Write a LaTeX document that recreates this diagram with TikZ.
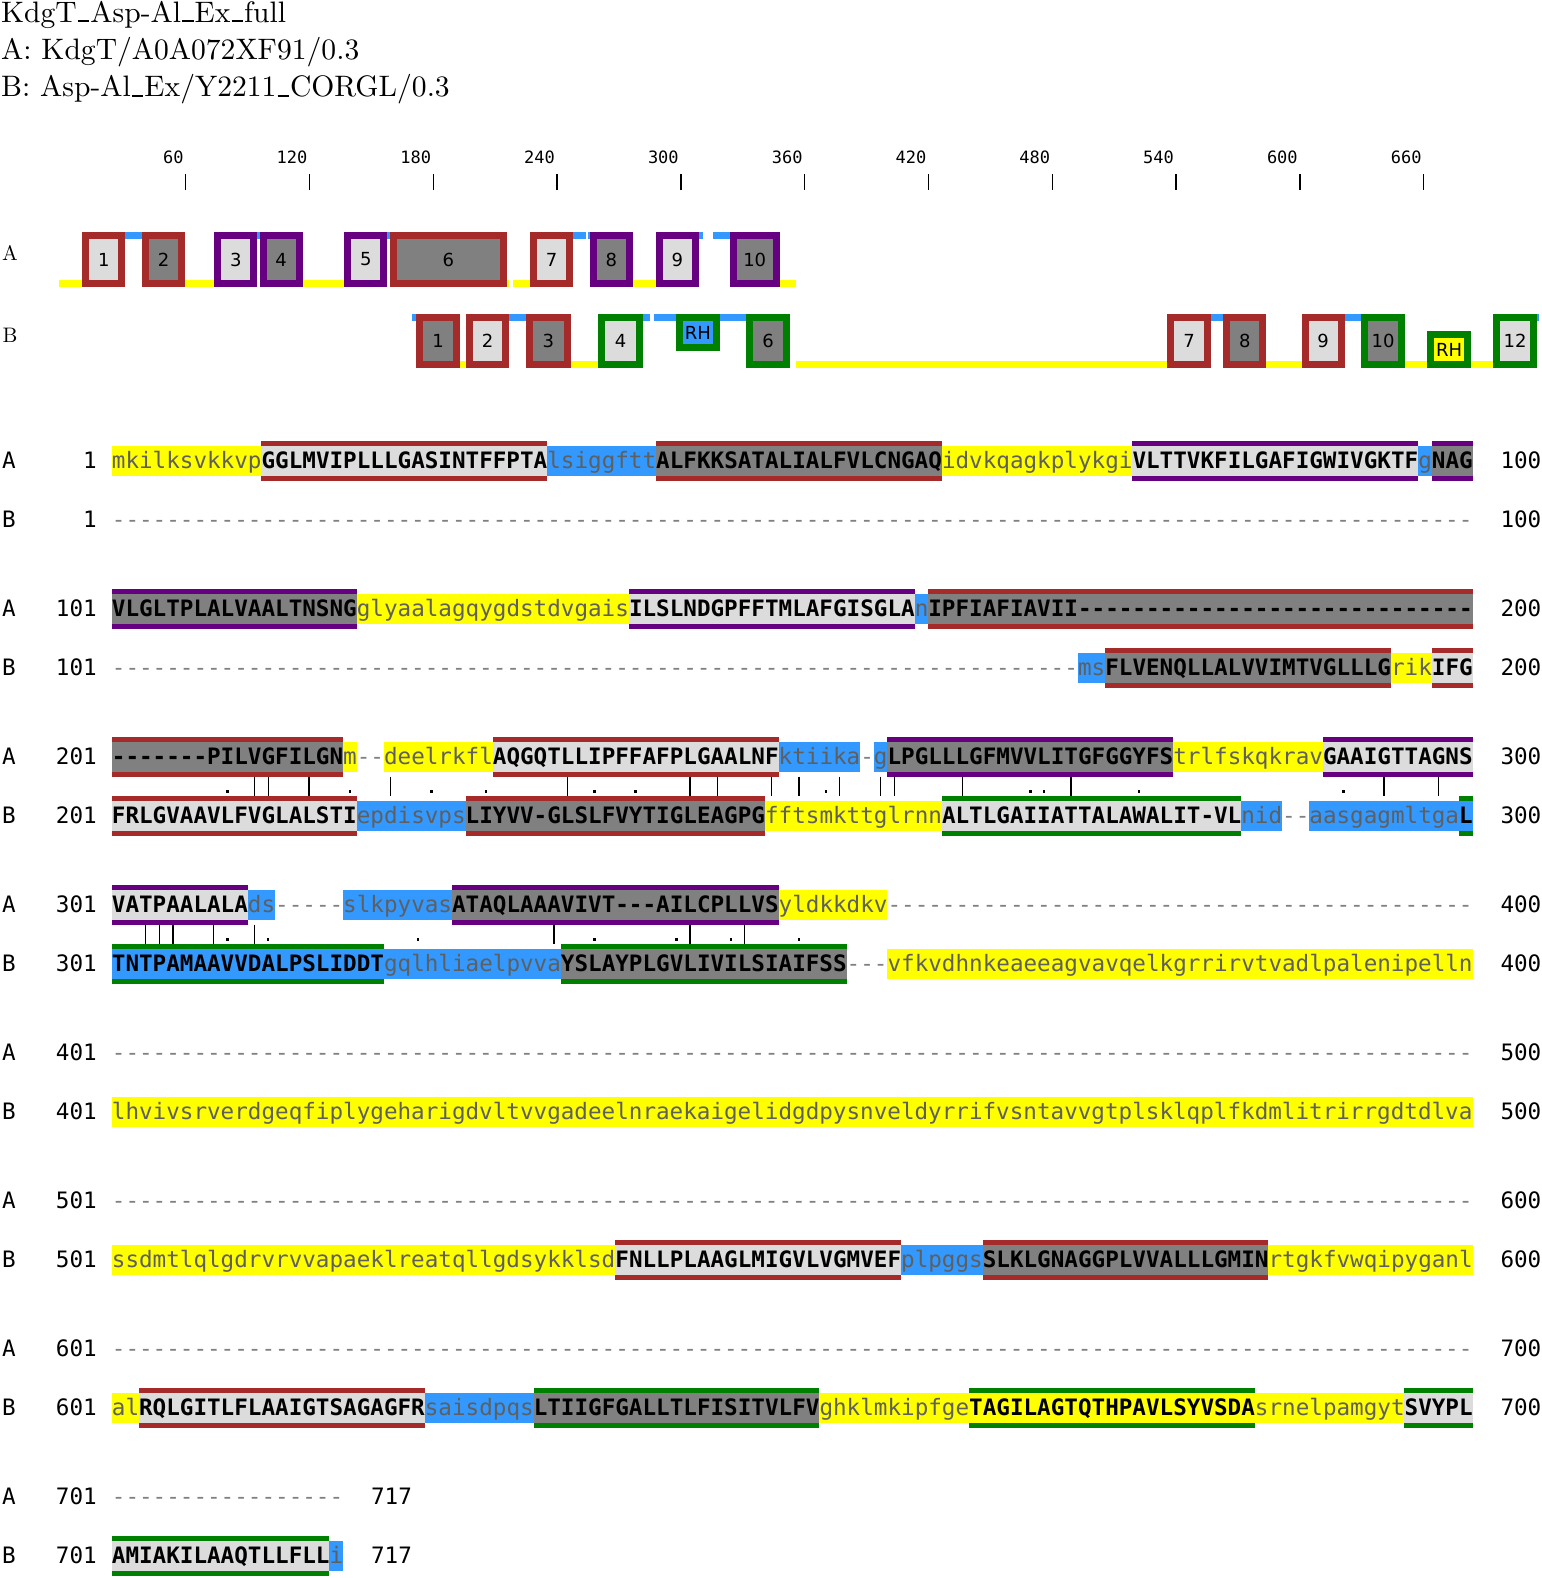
\documentclass[tikz,border=0pt]{standalone}
\usepackage{fontspec}
\newfontfamily\seqfont[Ligatures=TeXOff]{DejaVu Sans Mono}
\newfontfamily\tpfont{DejaVu Sans}
\newfontfamily\titlefont{lmroman10-regular}[Extension=.otf]

\definecolor{tmred}{HTML}{A52A2A}
\definecolor{tmpurple}{HTML}{660080}
\definecolor{tmgreen}{HTML}{008000}
\definecolor{lpyellow}{HTML}{FFFF00}
\definecolor{lpblue}{HTML}{3399FF}
\definecolor{tmlight}{HTML}{DCDCDC}
\definecolor{tmdark}{HTML}{808080}
\definecolor{loopfg}{HTML}{5F5F5F}
\definecolor{gapfg}{HTML}{808080}

\ExplSyntaxOn
\cs_new:Npn \seqdash #1 { \prg_replicate:nn {#1} {-} }
\ExplSyntaxOff
\newcommand\usc{\kern0.04em\rule{0.38em}{0.07em}\kern0.04em}

% alignment grid: first column and column width
\def\sx{111.7}
\def\cw{13.608}
\newcommand\setrow[2]{\expandafter\def\csname ry#1\endcsname{#2}}
\newcommand\getrow[1]{\edef\ry{\csname ry#1\endcsname}}
\setrow{a1}{460.5}\setrow{b1}{519.8}
\setrow{a2}{608.5}\setrow{b2}{667.8}
\setrow{a3}{756.5}\setrow{b3}{815.8}
\setrow{a4}{904.5}\setrow{b4}{963.8}
\setrow{a5}{1052.5}\setrow{b5}{1111.8}
\setrow{a6}{1200.5}\setrow{b6}{1259.8}
\setrow{a7}{1348.5}\setrow{b7}{1407.8}
\setrow{a8}{1496.5}\setrow{b8}{1555.8}

% helix residues: row, first, last, fill, border, text
\newcommand\tmseg[6]{%
  \getrow{#1}%
  \foreach \k in {#2,...,#3}{%
    \fill[#4] ({\sx+(\k-1)*\cw},\ry-15) rectangle ({\sx+\k*\cw},\ry+15);
    \fill[#5] ({\sx+(\k-1)*\cw},\ry-20) rectangle ({\sx+\k*\cw},\ry-15);
    \fill[#5] ({\sx+(\k-1)*\cw},\ry+15) rectangle ({\sx+\k*\cw},\ry+20);
  }%
  \node[tmres] (#1-#2) at ({\sx+(#2-1)*\cw},\ry+8) {#6};}
% loop residues: row, first, last, fill, text
\newcommand\loopseg[5]{%
  \getrow{#1}%
  \foreach \k in {#2,...,#3}
    \fill[#4] ({\sx+(\k-1)*\cw},\ry-15) rectangle ({\sx+\k*\cw},\ry+15);
  \node[loopres] (#1-#2) at ({\sx+(#2-1)*\cw},\ry+8) {#5};}
% gaps: row, first, count
\newcommand\gapseg[3]{%
  \getrow{#1}%
  \node[gapres] (#1-#2) at ({\sx+(#2-1)*\cw},\ry+8) {\seqdash{#3}};}
% row labels: row, letter, first number, last number, columns
\newcommand\rowlab[5]{%
  \getrow{#1}%
  \node[rownum, anchor=base west] (lab#1) at (2,\ry+8) {#2};
  \node[rownum, anchor=base east] (num#1) at (97,\ry+8) {#3};
  \node[rownum, anchor=base west] (end#1) at ({\sx+#5*\cw+27.8},\ry+8) {#4};}

% topology: name, first col, last col, top, bottom, fill, border, label
\newcommand\tphelix[8]{%
  \draw[line width=7bp, draw=#7, fill=#6]
    ({59.4+2.0633*(#2-1)+3.5},#4+3.5) rectangle ({59.4+2.0633*#3-3.5},#5-3.5);
  \node[tplab] (#1) at ({59.4+2.0633*(#2+#3-1)/2},{(#4+#5)/2}) {#8};}
\newcommand\tploop[4]{%
  \fill[#4] ({59.4+2.0633*(#1-1)},#3) rectangle ({59.4+2.0633*#2},#3+7);}

\begin{document}
\begin{tikzpicture}[
  x=1bp, y=-1bp,
  title/.style={anchor=base west, inner sep=0pt, font=\titlefont\fontsize{29.6bp}{33bp}\selectfont},
  tpname/.style={inner sep=0pt, font=\titlefont\fontsize{21bp}{23bp}\selectfont},
  tplab/.style={inner sep=0pt, font=\tpfont\fontsize{18bp}{20bp}\selectfont},
  ticklab/.style={anchor=base east, inner sep=0pt, font=\seqfont\fontsize{17bp}{19bp}\selectfont},
  tmres/.style={anchor=base west, inner sep=0pt, text=black,
                font=\seqfont\bfseries\fontsize{22.6bp}{24bp}\selectfont},
  loopres/.style={anchor=base west, inner sep=0pt, text=loopfg,
                  font=\seqfont\fontsize{22.6bp}{24bp}\selectfont},
  gapres/.style={loopres, text=gapfg},
  rownum/.style={inner sep=0pt, font=\seqfont\fontsize{22.6bp}{24bp}\selectfont},
  idline/.style={line width=1.2bp, black}
]
\useasboundingbox (0,0) rectangle (1542,1578);
\fill[white] (0,0) rectangle (1542,1578);

\node[title] (aln)  at (1,22.5) {KdgT\usc Asp-Al\usc Ex\usc full};
\node[title] (seqA) at (1,60)   {A: KdgT/A0A072XF91/0.3};
\node[title] (seqB) at (1,97)   {B: Asp-Al\usc Ex/Y2211\usc CORGL/0.3};

% ruler
\foreach \t in {1,...,11}{
  \pgfmathtruncatemacro\pos{60*\t}
  \draw[line width=1.5bp] ({61.9+123.8*\t},174) -- ({61.9+123.8*\t},190);
  \node[ticklab] (tick\t) at ({59.9+123.8*\t},163) {\pos};
}

% topology A
\node[tpname] (topA) at (10,253) {A};
\foreach \a/\b in {1/11,62/75,119/138,218/218,221/228,279/289,350/357}
  \tploop{\a}{\b}{280}{lpyellow};
\foreach \a/\b in {33/40,97/97,160/160,250/255,257/257,311/312,318/325}
  \tploop{\a}{\b}{232}{lpblue};
\tphelix{ta1}{12}{32}{232}{287}{tmlight}{tmred}{1}
\tphelix{ta2}{41}{61}{232}{287}{tmdark}{tmred}{2}
\tphelix{ta3}{76}{96}{232}{287}{tmlight}{tmpurple}{3}
\tphelix{ta4}{98}{118}{232}{287}{tmdark}{tmpurple}{4}
\tphelix{ta5}{139}{159}{232}{287}{tmlight}{tmpurple}{5}
\tphelix{ta6}{161}{217}{232}{287}{tmdark}{tmred}{6}
\tphelix{ta7}{229}{249}{232}{287}{tmlight}{tmred}{7}
\tphelix{ta8}{258}{278}{232}{287}{tmdark}{tmpurple}{8}
\tphelix{ta9}{290}{310}{232}{287}{tmlight}{tmpurple}{9}
\tphelix{ta10}{326}{349}{232}{287}{tmdark}{tmpurple}{10}

% topology B
\node[tpname] (topB) at (10,335) {B};
\foreach \a/\b in {195/197,249/261,358/537,586/602,653/663,685/695}
  \tploop{\a}{\b}{361}{lpyellow};
\foreach \a/\b in {172/173,219/226,284/286,289/299,321/333,559/564,624/631,717/717}
  \tploop{\a}{\b}{314}{lpblue};
\tphelix{tb1}{174}{194}{314}{368}{tmdark}{tmred}{1}
\tphelix{tb2}{198}{218}{314}{368}{tmlight}{tmred}{2}
\tphelix{tb3}{227}{248}{314}{368}{tmdark}{tmred}{3}
\tphelix{tb4}{262}{283}{314}{368}{tmlight}{tmgreen}{4}
\tphelix{tb5}{300}{320}{314}{351}{lpblue}{tmgreen}{RH}
\tphelix{tb6}{334}{354}{314}{368}{tmdark}{tmgreen}{6}
\tphelix{tb7}{538}{558}{314}{368}{tmlight}{tmred}{7}
\tphelix{tb8}{565}{585}{314}{368}{tmdark}{tmred}{8}
\tphelix{tb9}{603}{623}{314}{368}{tmlight}{tmred}{9}
\tphelix{tb10}{632}{652}{314}{368}{tmdark}{tmgreen}{10}
\tphelix{tb11}{664}{684}{331}{368}{lpyellow}{tmgreen}{RH}
\tphelix{tb12}{696}{716}{314}{368}{tmlight}{tmgreen}{12}

% block 1-100
\rowlab{a1}{A}{1}{100}{100}
\loopseg{a1}{1}{11}{lpyellow}{mkilksvkkvp}
\tmseg{a1}{12}{32}{tmlight}{tmred}{GGLMVIPLLLGASINTFFPTA}
\loopseg{a1}{33}{40}{lpblue}{lsiggftt}
\tmseg{a1}{41}{61}{tmdark}{tmred}{ALFKKSATALIALFVLCNGAQ}
\loopseg{a1}{62}{75}{lpyellow}{idvkqagkplykgi}
\tmseg{a1}{76}{96}{tmlight}{tmpurple}{VLTTVKFILGAFIGWIVGKTF}
\loopseg{a1}{97}{97}{lpblue}{g}
\tmseg{a1}{98}{100}{tmdark}{tmpurple}{NAG}
\rowlab{b1}{B}{1}{100}{100}
\gapseg{b1}{1}{100}

% block 101-200
\rowlab{a2}{A}{101}{200}{100}
\tmseg{a2}{1}{18}{tmdark}{tmpurple}{VLGLTPLALVAALTNSNG}
\loopseg{a2}{19}{38}{lpyellow}{glyaalagqygdstdvgais}
\tmseg{a2}{39}{59}{tmlight}{tmpurple}{ILSLNDGPFFTMLAFGISGLA}
\loopseg{a2}{60}{60}{lpblue}{n}
\tmseg{a2}{61}{100}{tmdark}{tmred}{IPFIAFIAVII\seqdash{29}}
\rowlab{b2}{B}{101}{200}{100}
\gapseg{b2}{1}{71}
\loopseg{b2}{72}{73}{lpblue}{ms}
\tmseg{b2}{74}{94}{tmdark}{tmred}{FLVENQLLALVVIMTVGLLLG}
\loopseg{b2}{95}{97}{lpyellow}{rik}
\tmseg{b2}{98}{100}{tmlight}{tmred}{IFG}

% block 201-300
\rowlab{a3}{A}{201}{300}{100}
\tmseg{a3}{1}{17}{tmdark}{tmred}{\seqdash{7}PILVGFILGN}
\loopseg{a3}{18}{18}{lpyellow}{m}
\gapseg{a3}{19}{2}
\loopseg{a3}{21}{28}{lpyellow}{deelrkfl}
\tmseg{a3}{29}{49}{tmlight}{tmred}{AQGQTLLIPFFAFPLGAALNF}
\loopseg{a3}{50}{55}{lpblue}{ktiika}
\gapseg{a3}{56}{1}
\loopseg{a3}{57}{57}{lpblue}{g}
\tmseg{a3}{58}{78}{tmdark}{tmpurple}{LPGLLLGFMVVLITGFGGYFS}
\loopseg{a3}{79}{89}{lpyellow}{trlfskqkrav}
\tmseg{a3}{90}{100}{tmlight}{tmpurple}{GAAIGTTAGNS}
\rowlab{b3}{B}{201}{300}{100}
\tmseg{b3}{1}{18}{tmlight}{tmred}{FRLGVAAVLFVGLALSTI}
\loopseg{b3}{19}{26}{lpblue}{epdisvps}
\tmseg{b3}{27}{48}{tmdark}{tmred}{LIYVV-GLSLFVYTIGLEAGPG}
\loopseg{b3}{49}{61}{lpyellow}{fftsmkttglrnn}
\tmseg{b3}{62}{83}{tmlight}{tmgreen}{ALTLGAIIATTALAWALIT-VL}
\loopseg{b3}{84}{86}{lpblue}{nid}
\gapseg{b3}{87}{2}
\loopseg{b3}{89}{99}{lpblue}{aasgagmltga}
\tmseg{b3}{100}{100}{lpblue}{tmgreen}{L}
\foreach \k in {11,12,15,21,34,43,45,49,51,54,57,58,63,71,94,98}
  \draw[idline] ({\sx+(\k-0.5)*\cw},776.5) -- ({\sx+(\k-0.5)*\cw},795.8);
\foreach \k in {9,18,24,28,36,39,53,68,69,76,91}
  \fill ({\sx+(\k-0.5)*\cw-1.3},790) rectangle ++(2.6,2.6);

% block 301-400
\rowlab{a4}{A}{301}{400}{100}
\tmseg{a4}{1}{10}{tmlight}{tmpurple}{VATPAALALA}
\loopseg{a4}{11}{12}{lpblue}{ds}
\gapseg{a4}{13}{5}
\loopseg{a4}{18}{25}{lpblue}{slkpyvas}
\tmseg{a4}{26}{49}{tmdark}{tmpurple}{ATAQLAAAVIVT---AILCPLLVS}
\loopseg{a4}{50}{57}{lpyellow}{yldkkdkv}
\gapseg{a4}{58}{43}
\rowlab{b4}{B}{301}{400}{100}
\tmseg{b4}{1}{20}{lpblue}{tmgreen}{TNTPAMAAVVDALPSLIDDT}
\loopseg{b4}{21}{33}{lpblue}{gqlhliaelpvva}
\tmseg{b4}{34}{54}{tmdark}{tmgreen}{YSLAYPLGVLIVILSIAIFSS}
\gapseg{b4}{55}{3}
\loopseg{b4}{58}{100}{lpyellow}{vfkvdhnkeaeeagvavqelkgrrirvtvadlpalenipelln}
\foreach \k in {3,4,5,8,11,33,43,47}
  \draw[idline] ({\sx+(\k-0.5)*\cw},924.5) -- ({\sx+(\k-0.5)*\cw},943.8);
\foreach \k in {9,12,23,36,42,46,51}
  \fill ({\sx+(\k-0.5)*\cw-1.3},938) rectangle ++(2.6,2.6);

% block 401-500
\rowlab{a5}{A}{401}{500}{100}
\gapseg{a5}{1}{100}
\rowlab{b5}{B}{401}{500}{100}
\loopseg{b5}{1}{100}{lpyellow}{lhvivsrverdgeqfiplygeharigdvltvvgadeelnraekaigelidgdpysnveldyrrifvsntavvgtplsklqplfkdmlitrirrgdtdlva}

% block 501-600
\rowlab{a6}{A}{501}{600}{100}
\gapseg{a6}{1}{100}
\rowlab{b6}{B}{501}{600}{100}
\loopseg{b6}{1}{37}{lpyellow}{ssdmtlqlgdrvrvvapaeklreatqllgdsykklsd}
\tmseg{b6}{38}{58}{tmlight}{tmred}{FNLLPLAAGLMIGVLVGMVEF}
\loopseg{b6}{59}{64}{lpblue}{plpggs}
\tmseg{b6}{65}{85}{tmdark}{tmred}{SLKLGNAGGPLVVALLLGMIN}
\loopseg{b6}{86}{100}{lpyellow}{rtgkfvwqipyganl}

% block 601-700
\rowlab{a7}{A}{601}{700}{100}
\gapseg{a7}{1}{100}
\rowlab{b7}{B}{601}{700}{100}
\loopseg{b7}{1}{2}{lpyellow}{al}
\tmseg{b7}{3}{23}{tmlight}{tmred}{RQLGITLFLAAIGTSAGAGFR}
\loopseg{b7}{24}{31}{lpblue}{saisdpqs}
\tmseg{b7}{32}{52}{tmdark}{tmgreen}{LTIIGFGALLTLFISITVLFV}
\loopseg{b7}{53}{63}{lpyellow}{ghklmkipfge}
\tmseg{b7}{64}{84}{lpyellow}{tmgreen}{TAGILAGTQTHPAVLSYVSDA}
\loopseg{b7}{85}{95}{lpyellow}{srnelpamgyt}
\tmseg{b7}{96}{100}{tmlight}{tmgreen}{SVYPL}

% block 701-717
\rowlab{a8}{A}{701}{717}{17}
\gapseg{a8}{1}{17}
\rowlab{b8}{B}{701}{717}{17}
\tmseg{b8}{1}{16}{tmlight}{tmgreen}{AMIAKILAAQTLLFLL}
\loopseg{b8}{17}{17}{lpblue}{i}

\end{tikzpicture}
\end{document}
